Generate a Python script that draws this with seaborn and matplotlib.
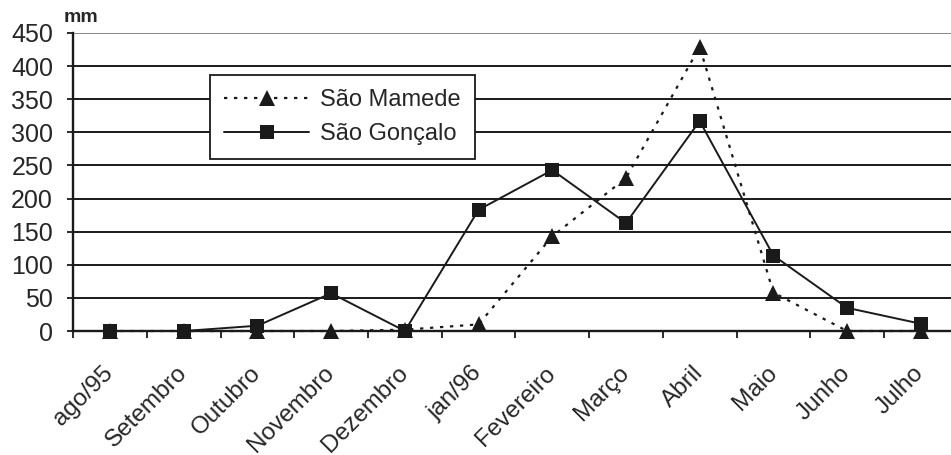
import matplotlib
matplotlib.use('Agg')
import matplotlib.pyplot as plt
import matplotlib.transforms as mtransforms
import seaborn as sns
import numpy as np

# monthly rainfall, Aug/95 - Jul/96
months = ['ago/95', 'Setembro', 'Outubro', 'Novembro', 'Dezembro', 'jan/96',
          'Fevereiro', 'Março', 'Abril', 'Maio', 'Junho', 'Julho']
sao_mamede = [0, 0, 0, 0, 2, 10, 143, 231, 429, 58, 0, 0]
sao_goncalo = [0, 0, 8, 57, 0, 183, 243, 163, 317, 114, 35, 11]
y_ticks = list(range(0, 451, 50))

sns.set_style('white')
plt.rcParams['font.family'] = ['Liberation Sans', 'DejaVu Sans']
ink = '#1a1a1a'

fig = plt.figure(figsize=(9.51, 4.55), dpi=100)
ax = fig.add_axes([0.077, 0.2725, 0.923, 0.655])

x = np.arange(len(months))
sns.lineplot(x=x, y=sao_mamede, ax=ax, color=ink, linestyle=(0, (1.5, 3)),
             linewidth=1.6, marker='^', markersize=11, markeredgewidth=0,
             label='São Mamede', clip_on=False, zorder=3)
sns.lineplot(x=x, y=sao_goncalo, ax=ax, color=ink, linestyle='-',
             linewidth=1.4, marker='s', markersize=10, markeredgewidth=0,
             label='São Gonçalo', clip_on=False, zorder=4)

ax.set_xlim(-0.5, 11.41)
ax.set_ylim(0, 450)
ax.set_yticks(y_ticks)
ax.set_yticklabels([str(v) for v in y_ticks], fontsize=18)
ax.set_xticks(x)
ax.set_xticklabels(months, rotation=45, ha='right', va='center',
                   rotation_mode='anchor', fontsize=17.5)
# labels sit left of the category centre, as in the original
shift = mtransforms.ScaledTranslation(-31 / 100, 0, fig.dpi_scale_trans)
for lab in ax.get_xticklabels():
    lab.set_transform(lab.get_transform() + shift)
ax.set_xticks(np.arange(-0.5, 11.5, 1), minor=True)
ax.tick_params(axis='x', which='major', length=0, pad=28)
ax.tick_params(axis='x', which='minor', length=5, width=1.3, color=ink,
               direction='out', bottom=True)
ax.tick_params(axis='y', length=4.5, width=1.3, color=ink, direction='out',
               left=True, pad=10)

ax.yaxis.grid(True, color=ink, linewidth=1.4)
ax.get_ygridlines()[-1].set_color('#888888')
ax.set_axisbelow(True)
for side in ['top', 'right']:
    ax.spines[side].set_visible(False)
for side in ['left', 'bottom']:
    ax.spines[side].set_color(ink)
    ax.spines[side].set_linewidth(1.7)
ax.set_xlabel('')
ax.set_ylabel('')

ax.text(-0.011, 1.023, 'mm', transform=ax.transAxes, fontsize=14,
        fontweight='bold', ha='left', va='bottom')

leg = ax.legend(loc='upper left', bbox_to_anchor=(0.156, 0.859), fontsize=17,
                frameon=True, fancybox=False, edgecolor=ink,
                handlelength=3.6, handletextpad=0.45, borderpad=0.6,
                labelspacing=0.5, borderaxespad=0)
leg.get_frame().set_linewidth(1.3)
leg.get_frame().set_alpha(1)

fig.savefig('out.png', dpi=100)
